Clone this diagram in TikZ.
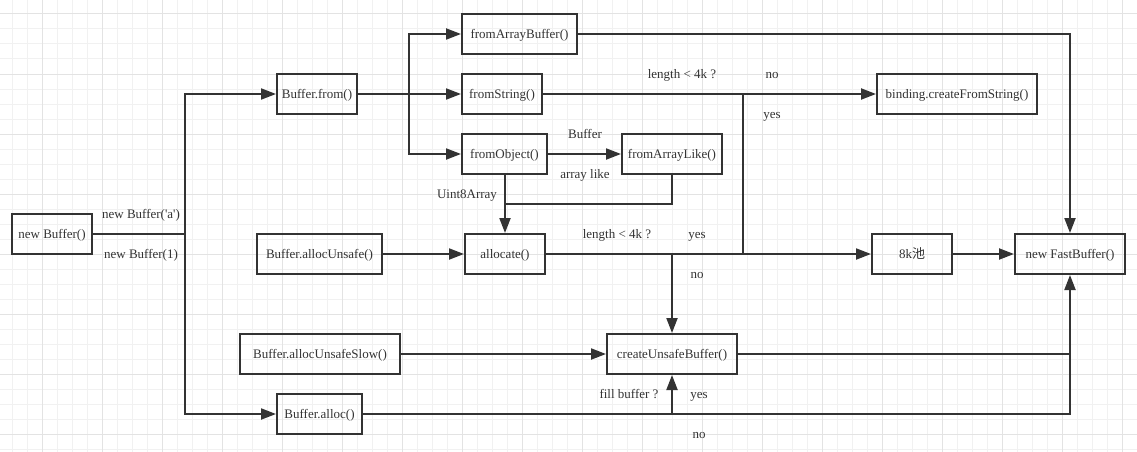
\documentclass[tikz,border=0pt]{standalone}
\usepackage{fontspec}
\setmainfont{Liberation Serif}
\newfontfamily\cjkfont{Noto Sans CJK SC}
\usetikzlibrary{arrows.meta}
\definecolor{ink}{HTML}{333333}
\definecolor{gridminor}{HTML}{F1F1F1}
\definecolor{gridmajor}{HTML}{E3E3E3}
\begin{document}
\begin{tikzpicture}[x=1pt,y=-1pt,
  box/.style={draw=ink, line width=2pt, minimum height=40pt, inner sep=0pt, text height=11pt, text depth=3pt, font=\fontsize{13}{15}\selectfont, text=ink},
  lbl/.style={font=\fontsize{13}{15}\selectfont, text=ink, inner sep=0pt, text height=11pt, text depth=3pt},
  conn/.style={draw=ink, line width=2pt},
  arr/.style={conn, -{Triangle[length=15pt,width=11pt]}},
  gminor/.style={draw=gridminor, line width=1pt},
  gmajor/.style={draw=gridmajor, line width=1pt},
]
\useasboundingbox[fill=white] (0,0) rectangle (1137,452);
% grid
\foreach \x in {12,27,...,1137} {\draw[gminor] (\x,0) -- (\x,452);}
\foreach \y in {14,29,...,452} {\draw[gminor] (0,\y) -- (1137,\y);}
\foreach \x in {42,102,...,1137} {\draw[gmajor] (\x,0) -- (\x,452);}
\foreach \y in {14,74,...,452} {\draw[gmajor] (0,\y) -- (1137,\y);}

% boxes
\node[box, minimum width=80pt]  (nb)    at (52,234)    {new Buffer()};
\node[box, minimum width=80pt]  (from)  at (317,94)    {Buffer.from()};
\node[box, minimum width=115pt] (fab)   at (519.5,34)  {fromArrayBuffer()};
\node[box, minimum width=80pt]  (fs)    at (502,94)    {fromString()};
\node[box, minimum width=85pt]  (fo)    at (504.5,154) {fromObject()};
\node[box, minimum width=100pt] (fal)   at (672,154)   {fromArrayLike()};
\node[box, minimum width=125pt] (au)    at (319.5,254) {Buffer.allocUnsafe()};
\node[box, minimum width=80pt]  (al)    at (505,254)   {allocate()};
\node[box, minimum width=80pt]  (pool)  at (912,254)   {8k{\cjkfont 池}};
\node[box, minimum width=110pt] (fast)  at (1070,254)  {new FastBuffer()};
\node[box, minimum width=160pt] (bcfs)  at (957,94)    {binding.createFromString()};
\node[box, minimum width=160pt] (aus)   at (320,354)   {Buffer.allocUnsafeSlow()};
\node[box, minimum width=130pt] (cub)   at (672,354)   {createUnsafeBuffer()};
\node[box, minimum width=85pt]  (alloc) at (319.5,414) {Buffer.alloc()};

% junctions
\coordinate (j1) at (185,234);
\coordinate (j2) at (409,94);
\coordinate (j3) at (743,94);
\coordinate (j4) at (743,254);
\coordinate (j5) at (505,204);
\coordinate (j6) at (672,254);
\coordinate (j7) at (1070,354);
\coordinate (j8) at (672,414);

% connectors
\draw[arr] (nb.east) -- (j1) |- (from.west);
\draw[arr] (j1) |- (alloc.west);
\draw[arr] (from.east) -- (fs.west);
\draw[arr] (j2) |- (fab.west);
\draw[arr] (j2) |- (fo.west);
\draw[arr] (fab.east) -| (fast.north);
\draw[arr] (fs.east) -- (bcfs.west);
\draw[conn] (j3) -- (j4);
\draw[arr] (fo.east) -- (fal.west);
\draw[arr] (fo.south -| al.north) -- (al.north);
\draw[conn] (fal.south) |- (j5);
\draw[arr] (au.east) -- (al.west);
\draw[arr] (al.east) -- (pool.west);
\draw[arr] (j6) -- (cub.north);
\draw[arr] (pool.east) -- (fast.west);
\draw[arr] (aus.east) -- (cub.west);
\draw[arr] (cub.east) -| (fast.south);
\draw[conn] (alloc.east) -| (j7);
\draw[arr] (j8) -- (cub.south);

% labels
\node[lbl] (l1)  at (141,214) {new Buffer(\textquotesingle a\textquotesingle)};
\node[lbl] (l2)  at (141,254) {new Buffer(1)};
\node[lbl] (l3)  at (682,74)  {length < 4k ?};
\node[lbl] (l4)  at (772,74)  {no};
\node[lbl] (l5)  at (772,114) {yes};
\node[lbl] (l6)  at (585,134) {Buffer};
\node[lbl] (l7)  at (585,174) {array like};
\node[lbl] (l8)  at (467,194) {Uint8Array};
\node[lbl] (l9)  at (617,234) {length < 4k ?};
\node[lbl] (l10) at (697,234) {yes};
\node[lbl] (l11) at (697,274) {no};
\node[lbl] (l12) at (629,394) {fill buffer ?};
\node[lbl] (l13) at (699,394) {yes};
\node[lbl] (l14) at (699,434) {no};
\end{tikzpicture}
\end{document}
